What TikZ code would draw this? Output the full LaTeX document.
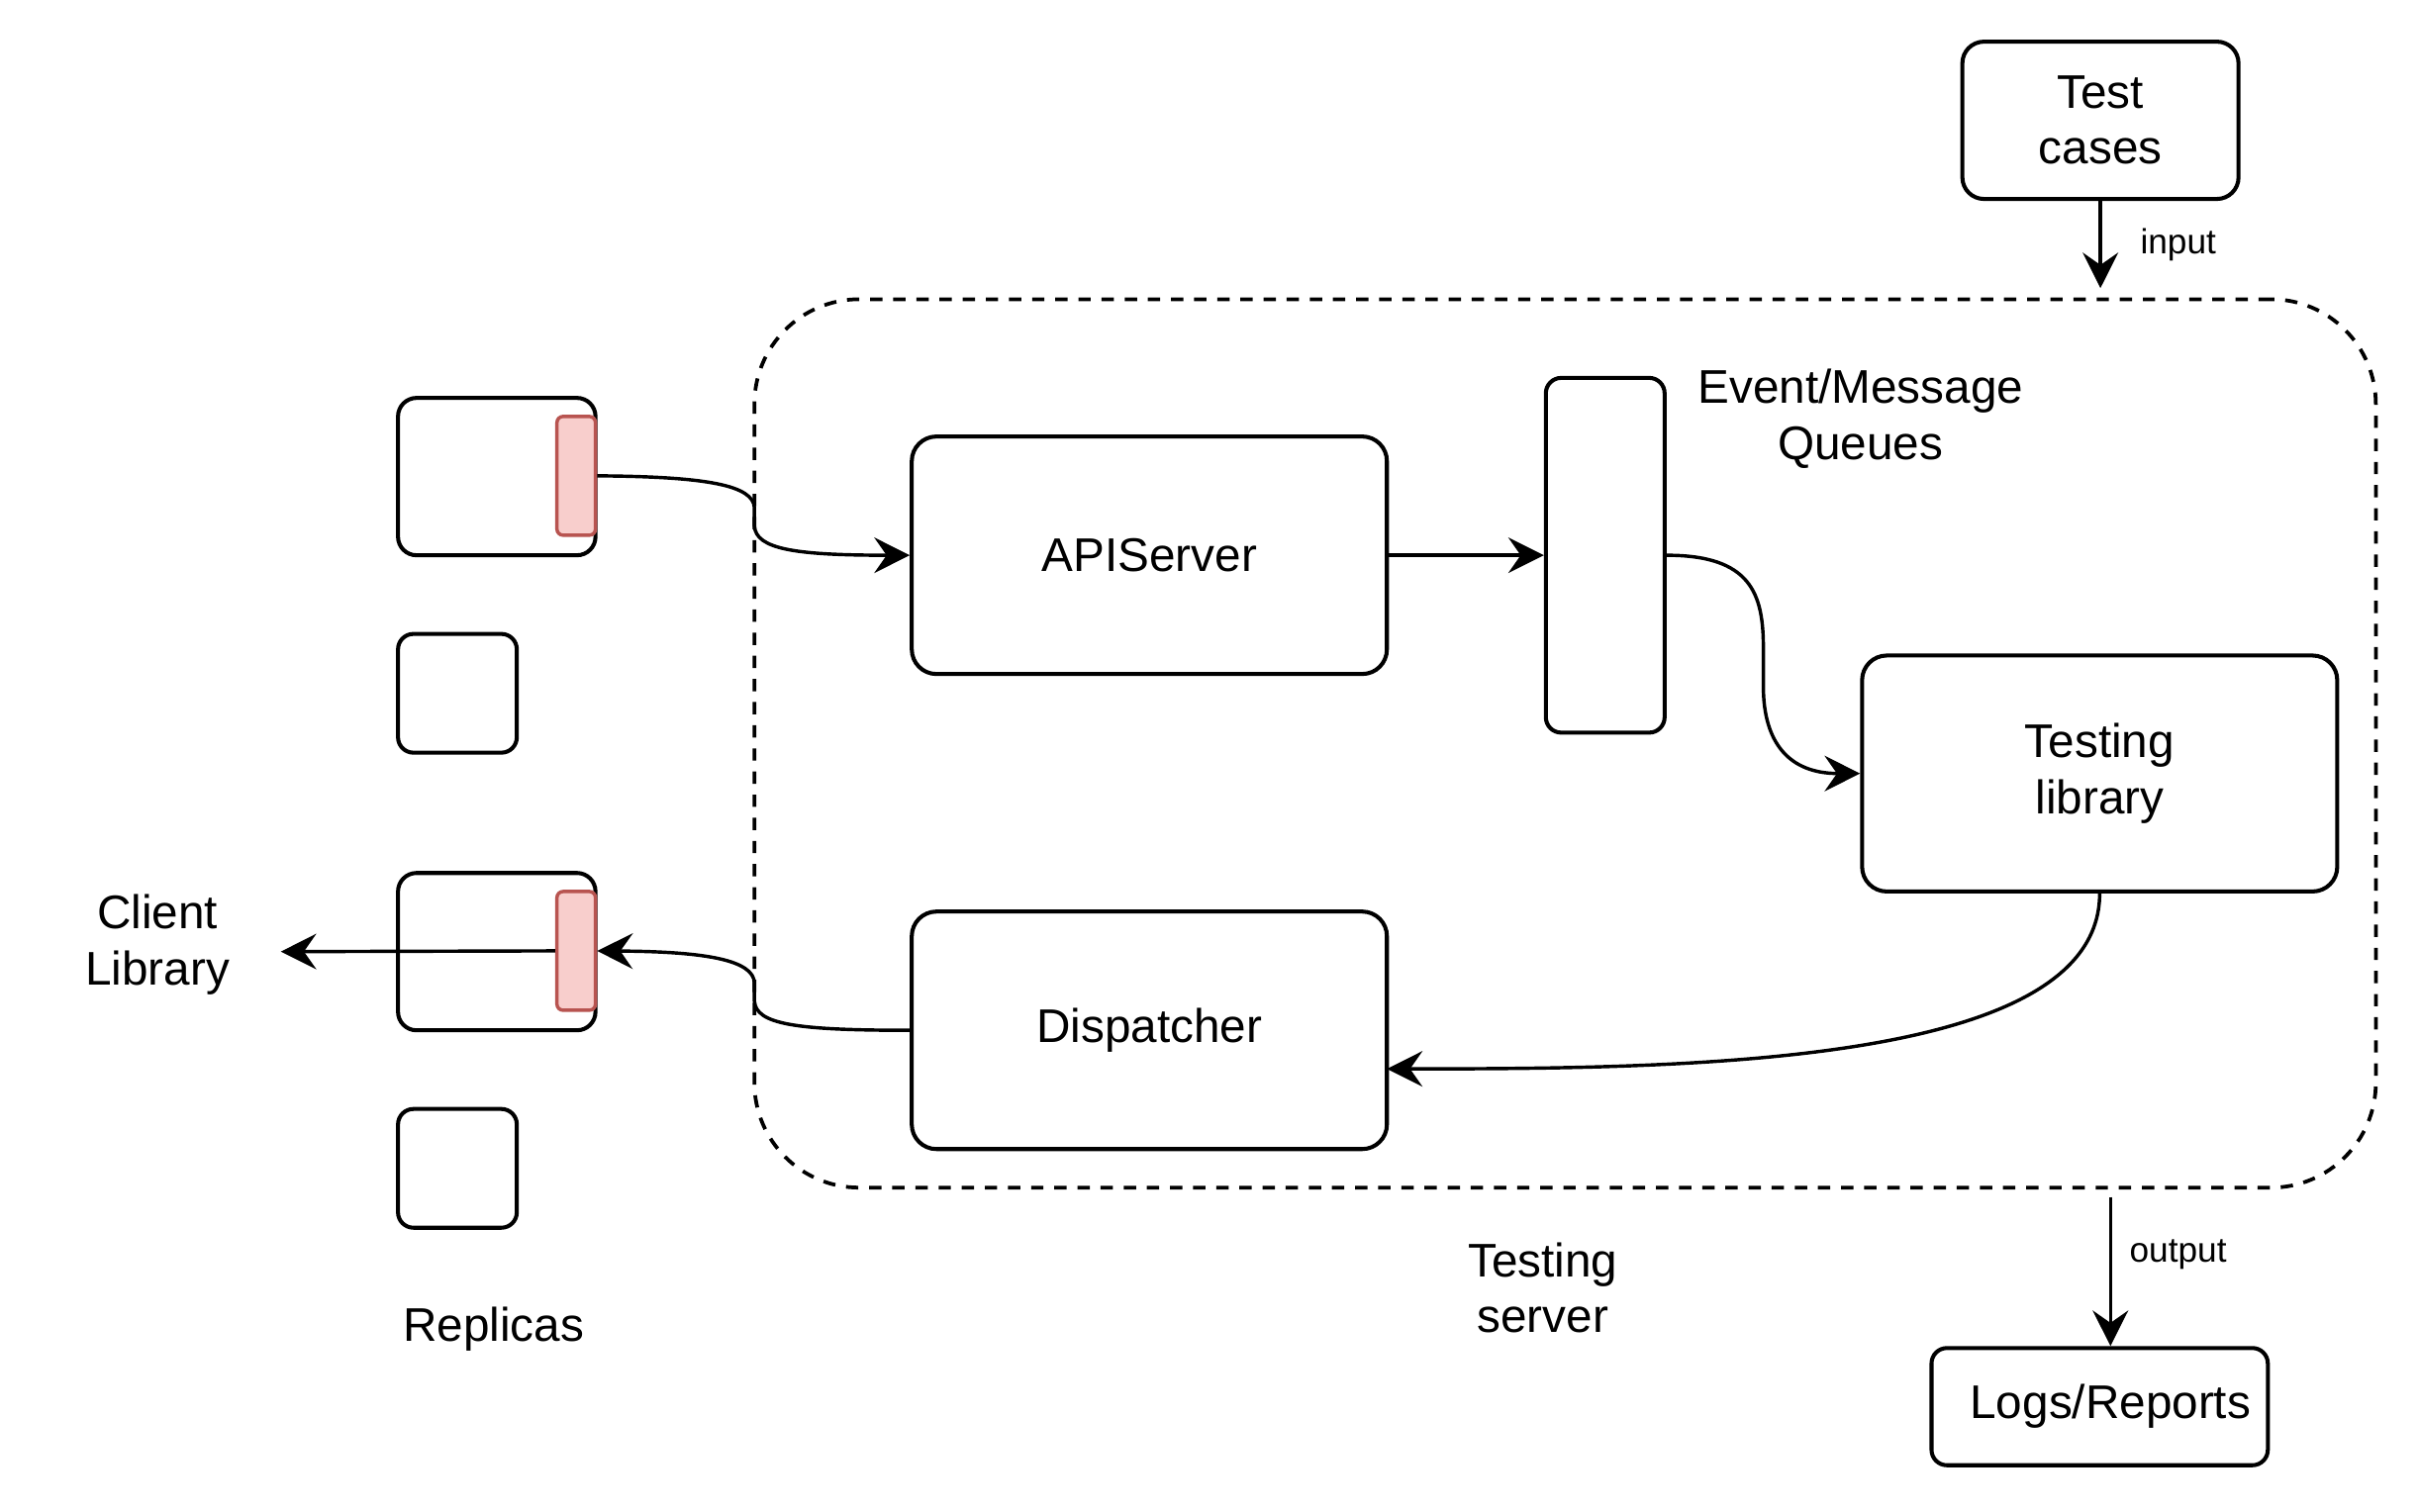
\documentclass[tikz,border=0pt]{standalone}
\usepackage{fontspec}
\setmainfont{Liberation Sans}
\usetikzlibrary{arrows.meta}
\definecolor{redfill}{HTML}{F8CECC}
\definecolor{redline}{HTML}{B85450}
\begin{document}
\begin{tikzpicture}[x=0.5pt,y=-0.5pt,
  box/.style={draw=black, line width=1.3pt, fill=white, rounded corners=#1,
    align=center, inner sep=0pt, font=\fontsize{15.3}{18}\selectfont},
  box/.default=8pt,
  port/.style={draw=redline, fill=redfill, line width=1.1pt, rounded corners=2pt,
    minimum width=12.5pt, minimum height=38.5pt, inner sep=0pt},
  lbl/.style={align=center, inner sep=0pt, font=\fontsize{15.3}{18}\selectfont},
  small/.style={inner sep=0pt, font=\fontsize{11.3}{13}\selectfont},
  arr/.style={line width=1.1pt, -{Stealth[length=11.5pt,width=11.5pt,inset=4pt]}}
]
\useasboundingbox (0,0) rectangle (1568,980);

% testing server boundary
\node[draw, dashed, dash pattern=on 4pt off 3.5pt, line width=1.2pt, rounded corners=34pt,
  minimum width=525.5pt, minimum height=288pt, inner sep=0pt] (server) at (1014.5,482) {};

% components
\node[box=7pt, minimum width=89.5pt, minimum height=51pt] (tc) at (1361.5,78) {Test\\cases};
\node[box, minimum width=154pt, minimum height=77pt] (api) at (745,360) {APIServer};
\node[box=5pt, minimum width=38.5pt, minimum height=115pt] (queue) at (1040.5,360) {};
\node[box, minimum width=154pt, minimum height=76.5pt] (tlib) at (1361,501.5) {Testing\\library};
\node[box, minimum width=154pt, minimum height=77pt] (disp) at (745,668) {\raisebox{-0.8pt}{Dispatcher}};
\node[box=5pt, minimum width=109pt, minimum height=38pt] (logs) at (1361,912) {\hspace*{7pt}\raisebox{-0.8pt}{Logs/Reports}};

% replicas
\node[box=6pt, minimum width=64pt, minimum height=51pt] (r1) at (322,309) {};
\node[box=5pt, minimum width=38.5pt, minimum height=38.5pt] (r2) at (296.5,449.5) {};
\node[box=6pt, minimum width=64pt, minimum height=51pt] (r3) at (322,617) {};
\node[box=5pt, minimum width=38.5pt, minimum height=38.5pt] (r4) at (296.5,757.5) {};
\node[port] (p1) at (373.5,308.5) {};
\node[port] (p3) at (373.5,616.5) {};

% free labels
\node[lbl] (qlabel) at (1206,271.5) {Event/Message\\Queues};
\node[lbl] (client) at (102,612.5) {Client\\Library};
\node[lbl] (replicas) at (320,862) {Replicas};
\node[lbl] (srvlabel) at (1000,835) {Testing\\server};
\node[small, anchor=west] (inlbl) at (1387,159) {input};
\node[small, anchor=west] (outlbl) at (1380,813.5) {output};

% connectors
\draw[arr] (p1.east) .. controls (460,309) and (488,315) .. (489,329)
  -- (489,341) .. controls (490,356) and (515,360) .. (api.west);
\draw[arr] (api.east) -- (queue.west);
\draw[arr] (queue.east) .. controls (1135,360) and (1143,385) .. (1143,420)
  -- (1143,445) .. controls (1143,482) and (1160,501.5) .. (tlib.west);
\coordinate (dispin) at (899,693);
\draw[arr] (tlib.south) .. controls (1361,690) and (1100,693) .. (dispin);
\draw[arr] (disp.west) .. controls (515,668) and (490,664) .. (489,649)
  -- (489,637) .. controls (488,623) and (460,617) .. (p3.east);
\coordinate (clientin) at (182,617);
\draw[arr] (p3.west) -- (clientin);
\draw[arr, shorten >=3pt] (tc.south) -- (tc.south |- server.north);
\coordinate (outsrc) at (1368,776);
\draw[arr] (outsrc) -- (outsrc |- logs.north);
\end{tikzpicture}
\end{document}
